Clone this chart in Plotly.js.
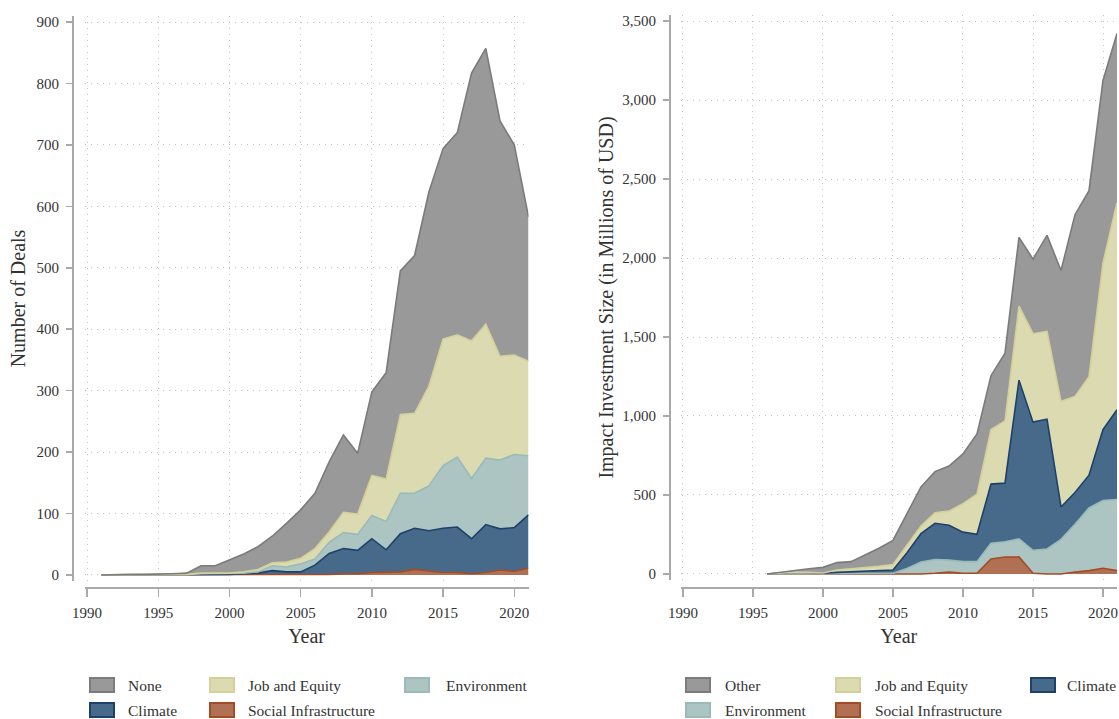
<!DOCTYPE html>
<html>
<head>
<meta charset="utf-8">
<script src="https://cdn.plot.ly/plotly-3.0.1.min.js"></script>
<style>html,body{margin:0;padding:0;background:#fff;}#chart{width:1119px;height:719px;}</style>
</head>
<body>
<div id="chart"></div>
<script>
// ---- Data: number of deals (1991-2021) ----
const dealYears = [1991,1992,1993,1994,1995,1996,1997,1998,1999,2000,2001,2002,2003,2004,2005,2006,2007,2008,2009,2010,2011,2012,2013,2014,2015,2016,2017,2018,2019,2020,2021];
const dealsSocial  = [0,0,0,0,0,0,0,0,0,1,0,0,0,0,0,0,1,2,2,4,4,5,9,6,4,4,2,4,8,6,11];
const dealsClimate = [0,0,0,0,0,1,1,1,1,0,2,3,7,5,5,16,34,41,38,55,37,62,67,66,72,74,57,78,67,71,87];
const dealsEnv     = [0,0,0,0,0,0,0,1,1,1,1,2,8,8,13,10,18,26,26,38,46,66,57,73,102,114,98,108,112,119,96];
const dealsJob     = [0,0,0,0,0,0,0,1,1,1,2,4,5,8,9,17,17,33,33,65,69,128,130,162,206,199,224,218,169,162,154];
const dealsNone    = [0,1,1,1,1,1,2,12,12,21,29,37,43,63,79,90,114,126,99,136,173,234,257,316,310,329,436,449,383,342,235];

// ---- Data: impact investment size, millions USD (1996-2021) ----
const investYears = [1996,1997,1998,1999,2000,2001,2002,2003,2004,2005,2006,2007,2008,2009,2010,2011,2012,2013,2014,2015,2016,2017,2018,2019,2020,2021];
const investSocial  = [0,0,0,0,0,0,0,0,0,0,0,0,5,12,5,5,95,107,108,5,0,0,12,21,36,21];
const investEnv     = [0,0,0,0,0,2,4,5,5,5,35,75,87,76,73,73,100,97,114,145,158,219,303,397,429,450];
const investClimate = [0,8,12,10,5,8,10,13,15,20,100,180,229,221,187,173,374,371,1005,811,822,205,201,207,449,568];
const investJob     = [0,0,0,0,1,15,18,22,28,35,45,48,67,89,180,254,345,394,468,560,556,669,608,623,1055,1311];
const investOther   = [0,4,13,23,36,47,46,78,115,153,203,248,260,285,315,381,341,429,436,472,607,828,1150,1178,1155,1071];

const xTickVals = [1990,1995,2000,2005,2010,2015,2020];

// ---- Styles ----
const FILL = {'None':'#999999','Other':'#999999','Job and Equity':'#dcdab0','Environment':'#adc5c2','Climate':'#476a8a','Social Infrastructure':'#b07054'};
const LINE = {'None':'#7b7b7b','Other':'#7b7b7b','Job and Equity':'#d3d09c','Environment':'#98bbb8','Climate':'#1d416a','Social Infrastructure':'#a44b28'};
const FONT = 'Liberation Serif, Times New Roman, serif';
const W = 1119, H = 719;

function area(x, y, name, group, xa, ya){
  return {x:x, y:y, name:name, type:'scatter', mode:'lines', stackgroup:group,
    xaxis:xa, yaxis:ya, line:{color:LINE[name], width:1.6, shape:'linear'},
    fillcolor:FILL[name], showlegend:false, hoverinfo:'x+y+name'};
}

const traces = [
  area(dealYears, dealsSocial, 'Social Infrastructure', 'd', 'x', 'y'),
  area(dealYears, dealsClimate, 'Climate', 'd', 'x', 'y'),
  area(dealYears, dealsEnv, 'Environment', 'd', 'x', 'y'),
  area(dealYears, dealsJob, 'Job and Equity', 'd', 'x', 'y'),
  area(dealYears, dealsNone, 'None', 'd', 'x', 'y'),
  area(investYears, investSocial, 'Social Infrastructure', 'i', 'x2', 'y2'),
  area(investYears, investEnv, 'Environment', 'i', 'x2', 'y2'),
  area(investYears, investClimate, 'Climate', 'i', 'x2', 'y2'),
  area(investYears, investJob, 'Job and Equity', 'i', 'x2', 'y2'),
  area(investYears, investOther, 'Other', 'i', 'x2', 'y2')
];

const axisCommon = {
  showline:true, linecolor:'#a9a9a9', linewidth:2,
  ticks:'outside', tickcolor:'#a9a9a9', tickwidth:1.5,
  showgrid:true, gridcolor:'#c4c4c4', gridwidth:1, griddash:'1px,5px',
  zeroline:false, tickfont:{family:FONT, size:15, color:'#333'}
};
function px(v){return v/W;}
function py(v){return 1 - v/H;}

const layout = {
  width:W, height:H, margin:{l:0,r:0,t:0,b:0},
  paper_bgcolor:'#fff', plot_bgcolor:'rgba(0,0,0,0)',
  font:{family:FONT, color:'#333'},
  showlegend:false,
  xaxis: Object.assign({}, axisCommon, {
    domain:[px(84.7), px(528.5)], range:[1989.83,2021], anchor:'free', position:py(588),
    tickvals:xTickVals, ticklen:8, ticklabelstandoff:3,
    title:{text:'Year', font:{family:FONT, size:20, color:'#333'}, standoff:8}
  }),
  yaxis: Object.assign({}, axisCommon, {
    domain:[py(581.1), py(15.9)], range:[-10,910], anchor:'free', position:px(73),
    dtick:100, tick0:0, ticklen:6, ticklabelstandoff:4,
    title:{text:'Number of Deals', font:{family:FONT, size:20, color:'#333'}, standoff:5}
  }),
  xaxis2: Object.assign({}, axisCommon, {
    domain:[px(680.6), px(1117)], range:[1989.83,2021], anchor:'free', position:py(588),
    tickvals:xTickVals, ticklen:8, ticklabelstandoff:3,
    title:{text:'Year', font:{family:FONT, size:20, color:'#333'}, standoff:8}
  }),
  yaxis2: Object.assign({}, axisCommon, {
    domain:[py(580.3), py(14.7)], range:[-40,3540], anchor:'free', position:px(670),
    dtick:500, tick0:0, tickformat:',d', ticklen:6, ticklabelstandoff:4,
    title:{text:'Impact Investment Size (in Millions of USD)', font:{family:FONT, size:20, color:'#333'}, standoff:2}
  }),
  shapes:[], annotations:[]
};

// ---- Custom legends (Stata-style boxes) ----
const rowsY = [685, 710];
const legends = [
  {swatchX:[90,210,405], labelX:[127,247,445],
   items:[['None',0,0],['Job and Equity',1,0],['Environment',2,0],['Climate',0,1],['Social Infrastructure',1,1]]},
  {swatchX:[686,836,1031], labelX:[724,874,1066],
   items:[['Other',0,0],['Job and Equity',1,0],['Climate',2,0],['Environment',0,1],['Social Infrastructure',1,1]]}
];
legends.forEach(function(lg){
  lg.items.forEach(function(it){
    const name = it[0], col = it[1], row = it[2];
    const sx = lg.swatchX[col], yy = rowsY[row];
    layout.shapes.push({type:'rect', xref:'paper', yref:'paper',
      x0:px(sx), x1:px(sx+24), y0:py(yy+7), y1:py(yy-7),
      fillcolor:FILL[name], line:{color:LINE[name], width:2}});
    layout.annotations.push({xref:'paper', yref:'paper', x:px(lg.labelX[col]), y:py(yy),
      xanchor:'left', yanchor:'middle', showarrow:false, text:name, borderpad:0,
      font:{family:FONT, size:15.5, color:'#333'}});
  });
});

Plotly.newPlot('chart', traces, layout, {displayModeBar:false, staticPlot:true});
</script>
</body>
</html>
